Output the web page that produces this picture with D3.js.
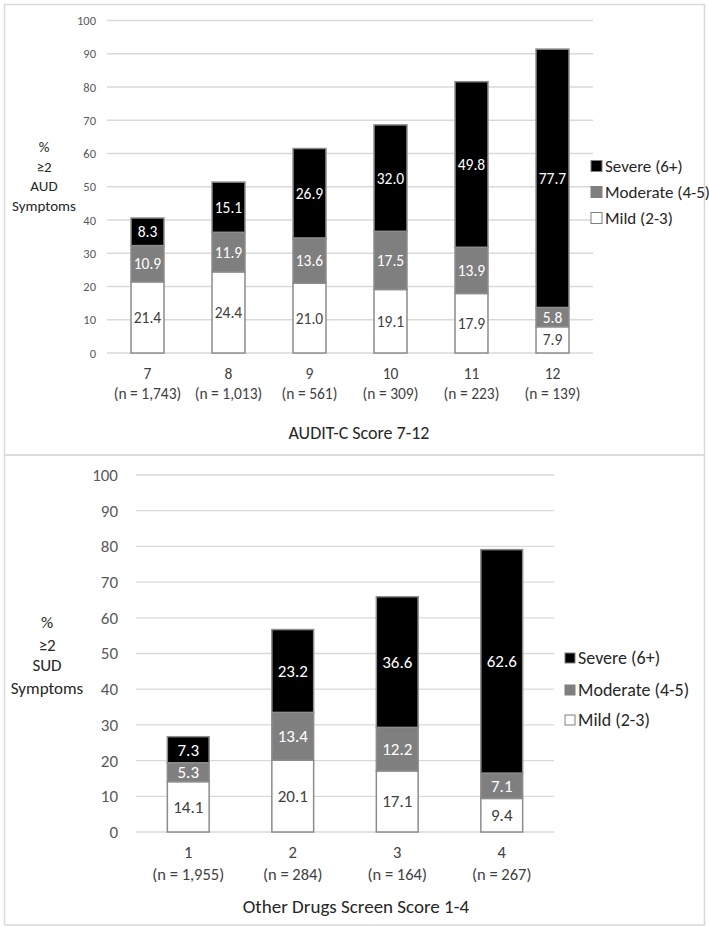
<!DOCTYPE html>
<html><head><meta charset="utf-8">
<script src="https://cdn.jsdelivr.net/npm/d3@7"></script>
<style>
html,body{margin:0;padding:0;background:#fff;}
svg{display:block;font-family:Carlito,Calibri,Lato,sans-serif;}
</style></head><body>
<svg id="c" width="709" height="927"></svg>
<script>
// ---- data ----
const auditCategories = ["7","8","9","10","11","12"];
const auditN = ["(n = 1,743)","(n = 1,013)","(n = 561)","(n = 309)","(n = 223)","(n = 139)"];
const auditMild = [21.4,24.4,21.0,19.1,17.9,7.9];
const auditModerate = [10.9,11.9,13.6,17.5,13.9,5.8];
const auditSevere = [8.3,15.1,26.9,32.0,49.8,77.7];

const drugCategories = ["1","2","3","4"];
const drugN = ["(n = 1,955)","(n = 284)","(n = 164)","(n = 267)"];
const drugMild = [14.1,20.1,17.1,9.4];
const drugModerate = [5.3,13.4,12.2,7.1];
const drugSevere = [7.3,23.2,36.6,62.6];

const yTicks = [0,10,20,30,40,50,60,70,80,90,100];
const seriesNames = ["Severe (6+)","Moderate (4-5)","Mild (2-3)"];
const seriesKeys = ["mild","moderate","severe"];

const colors = {mild:"#ffffff", moderate:"#7f7f7f", severe:"#000000"};
const labelColors = {mild:"#404040", moderate:"#ffffff", severe:"#ffffff"};

const svg = d3.select("#c");

// panel borders
svg.append("rect").attr("x",4.5).attr("y",4.5).attr("width",700).attr("height",450.5)
  .attr("fill","none").attr("stroke","#d9d9d9").attr("stroke-width",1.5);
svg.append("rect").attr("x",4.5).attr("y",455).attr("width",700).attr("height",470)
  .attr("fill","none").attr("stroke","#d9d9d9").attr("stroke-width",1.5);

function panel(cfg){
  const rows = cfg.cats.map((c,i)=>({cat:c, n:cfg.n[i], mild:cfg.mild[i], moderate:cfg.moderate[i], severe:cfg.severe[i]}));
  const x = d3.scaleBand().domain(cfg.cats).range([cfg.x0,cfg.x1]).paddingInner(cfg.pad).paddingOuter(cfg.pad/2);
  const y = d3.scaleLinear().domain([0,100]).range([cfg.y0,cfg.y1]);
  const g = svg.append("g");
  // gridlines
  g.selectAll(".grid").data(yTicks).join("line")
    .attr("x1",cfg.x0).attr("x2",cfg.x1).attr("y1",d=>y(d)).attr("y2",d=>y(d))
    .attr("stroke","#d9d9d9").attr("stroke-width",1.3);
  // y axis labels
  const ax = g.append("g").attr("transform",`translate(${cfg.x0},0)`)
    .call(d3.axisLeft(y).tickValues(yTicks).tickSize(0).tickPadding(cfg.tickPad));
  ax.select(".domain").remove();
  ax.selectAll("text").attr("font-size",cfg.tickFont).attr("fill","#595959").attr("font-family","Carlito,Calibri,Lato,sans-serif");
  // stacks
  const stack = d3.stack().keys(seriesKeys)(rows);
  stack.forEach(layer=>{
    const key = layer.key;
    g.selectAll(".b"+key).data(layer).join("rect")
      .attr("x",d=>x(d.data.cat)).attr("width",x.bandwidth())
      .attr("y",d=>y(d[1])).attr("height",d=>y(d[0])-y(d[1]))
      .attr("fill",colors[key]).attr("stroke","#8c8c8c").attr("stroke-width",1.5);
  });
  stack.forEach(layer=>{
    const key = layer.key;
    g.selectAll(".l"+key).data(layer).join("text")
      .attr("x",d=>x(d.data.cat)+x.bandwidth()/2)
      .attr("y",d=>y((d[0]+d[1])/2))
      .attr("dy","0.35em").attr("text-anchor","middle")
      .attr("font-size",cfg.labFont).attr("fill",labelColors[key])
      .text(d=>d3.format(".1f")(d.data[key]));
  });
  // x labels
  rows.forEach(r=>{
    const cx = x(r.cat)+x.bandwidth()/2;
    g.append("text").attr("x",cx).attr("y",cfg.catY).attr("text-anchor","middle")
      .attr("font-size",cfg.catFont).attr("fill","#404040").text(r.cat);
    g.append("text").attr("x",cx).attr("y",cfg.nY).attr("text-anchor","middle")
      .attr("font-size",cfg.catFont).attr("fill","#404040").text(r.n);
  });
  // x title
  g.append("text").attr("x",cfg.titleX).attr("y",cfg.titleY).attr("text-anchor","middle")
    .attr("font-size",cfg.titleFont).attr("fill","#262626").text(cfg.title);
  // y title
  cfg.yTitle.forEach((t,i)=>{
    g.append("text").attr("x",cfg.yTitleX).attr("y",cfg.yTitleY[i]).attr("text-anchor","middle")
      .attr("font-size",cfg.yTitleFont).attr("fill","#262626").text(t);
  });
  // legend
  const legKeys = ["severe","moderate","mild"];
  legKeys.forEach((k,i)=>{
    const ly = cfg.legY[i];
    g.append("rect").attr("x",cfg.legX).attr("y",ly-cfg.legSq/2).attr("width",cfg.legSq).attr("height",cfg.legSq)
      .attr("fill",colors[k]).attr("stroke","#7f7f7f").attr("stroke-width",1);
    g.append("text").attr("x",cfg.legX+cfg.legSq+3).attr("y",ly).attr("dy","0.35em")
      .attr("font-size",cfg.legFont).attr("fill","#262626").text(seriesNames[i]);
  });
}

panel({cats:auditCategories, n:auditN, mild:auditMild, moderate:auditModerate, severe:auditSevere,
  x0:107, x1:593, y0:353, y1:20.5, pad:0.593, tickPad:11, tickFont:12.5, labFont:15.5,
  catY:379, nY:399, catFont:15.5, title:"AUDIT-C Score 7-12", titleX:359, titleY:439, titleFont:18,
  yTitle:["%","≥2","AUD","Symptoms"], yTitleX:44, yTitleY:[152,172,191,211], yTitleFont:15,
  legX:591, legY:[166,192,218], legSq:11, legFont:17});

panel({cats:drugCategories, n:drugN, mild:drugMild, moderate:drugModerate, severe:drugSevere,
  x0:136, x1:554, y0:832, y1:475, pad:0.6, tickPad:18, tickFont:17, labFont:17,
  catY:858, nY:880, catFont:16.5, title:"Other Drugs Screen Score 1-4", titleX:356, titleY:913, titleFont:19,
  yTitle:["%","≥2","SUD","Symptoms"], yTitleX:47, yTitleY:[628,651,671,694], yTitleFont:17,
  legX:565, legY:[658,690,720], legSq:10, legFont:18});
</script>
</body></html>
